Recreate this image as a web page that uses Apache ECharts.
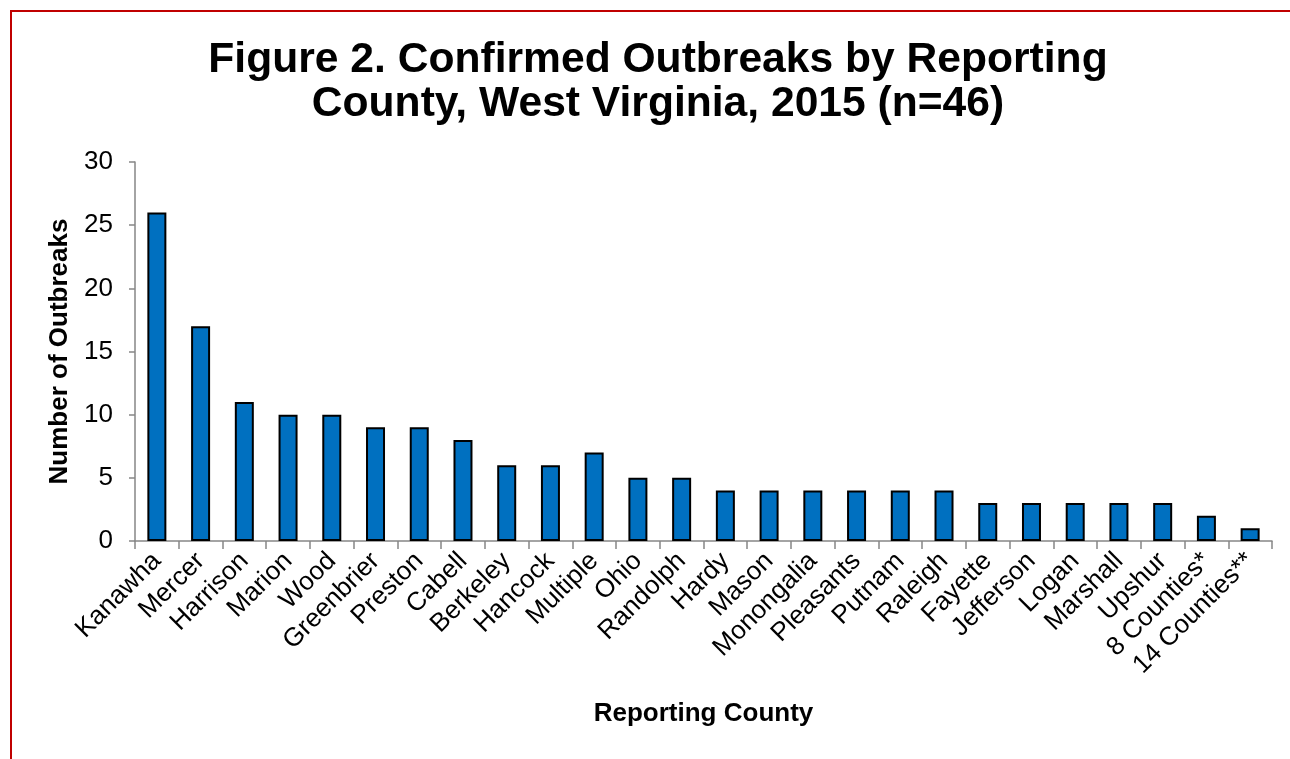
<!DOCTYPE html>
<html>
<head>
<meta charset="utf-8">
<script src="https://cdn.jsdelivr.net/npm/echarts@6/dist/echarts.min.js"></script>
<style>
  html, body { margin: 0; padding: 0; background: #fff; }
  #chart { width: 1290px; height: 759px; }
</style>
</head>
<body>
<div id="chart"></div>
<script>
// chart data
const counties = ['Kanawha', 'Mercer', 'Harrison', 'Marion', 'Wood', 'Greenbrier', 'Preston',
  'Cabell', 'Berkeley', 'Hancock', 'Multiple', 'Ohio', 'Randolph', 'Hardy', 'Mason',
  'Monongalia', 'Pleasants', 'Putnam', 'Raleigh', 'Fayette', 'Jefferson', 'Logan',
  'Marshall', 'Upshur', '8 Counties*', '14 Counties**']
const outbreaks = [26, 17, 11, 10, 10, 9, 9, 8, 6, 6, 7, 5, 5, 4, 4, 4, 4, 4, 4, 3, 3, 3, 3, 3, 2, 1]
const yTicks = [0, 5, 10, 15, 20, 25, 30]

const font = 'Liberation Sans, Arial, sans-serif'
const chart = echarts.init(document.getElementById('chart'))

chart.setOption({
  animation: false,
  title: {
    text: 'Figure 2. Confirmed Outbreaks by Reporting\nCounty, West Virginia, 2015 (n=46)',
    left: 653,
    top: 33,
    textAlign: 'center',
    textStyle: {
      fontFamily: font,
      fontSize: 42.6,
      fontWeight: 'bold',
      lineHeight: 44,
      color: '#000'
    }
  },
  graphic: [{
    type: 'polyline',
    shape: { points: [[11, 759], [11, 11], [1290, 11]] },
    style: { stroke: '#c00000', lineWidth: 2, fill: null }
  }],
  grid: {
    left: 135,
    right: 18,
    top: 162,
    bottom: 218,
    containLabel: false
  },
  xAxis: {
    type: 'category',
    data: counties,
    name: 'Reporting County',
    nameLocation: 'middle',
    nameGap: 160,
    nameTextStyle: { fontFamily: font, fontSize: 26, fontWeight: 'bold', color: '#000' },
    axisLine: { lineStyle: { color: '#868686', width: 1.5 } },
    axisTick: { show: true, length: 8, lineStyle: { color: '#868686', width: 1.5 } },
    axisLabel: {
      rotate: 45,
      interval: 0,
      margin: 16,
      fontFamily: font,
      fontSize: 26,
      color: '#000'
    }
  },
  yAxis: {
    type: 'value',
    min: yTicks[0],
    max: yTicks[yTicks.length - 1],
    interval: 5,
    name: 'Number of Outbreaks',
    nameLocation: 'middle',
    nameGap: 58,
    nameTextStyle: { fontFamily: font, fontSize: 26, fontWeight: 'bold', color: '#000' },
    axisLine: { show: true, lineStyle: { color: '#868686', width: 1.5 } },
    axisTick: { show: true, length: 6, lineStyle: { color: '#868686', width: 1.5 } },
    splitLine: { show: false },
    axisLabel: {
      margin: 22,
      fontFamily: font,
      fontSize: 26,
      color: '#000'
    }
  },
  series: [{
    name: 'Outbreaks',
    type: 'bar',
    data: outbreaks,
    barWidth: 19,
    itemStyle: {
      color: '#0070c0',
      borderColor: '#000',
      borderWidth: 2
    }
  }]
})
</script>
</body>
</html>
